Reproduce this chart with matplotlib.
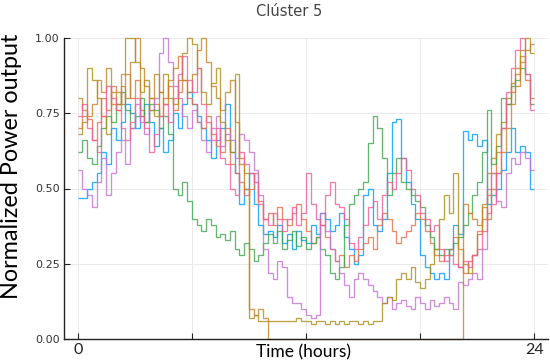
import numpy as np
import matplotlib
matplotlib.use("Agg")
import matplotlib.pyplot as plt

# 15-minute resolution (96 intervals over 24 h)
blue = [.47, .47, .50, .52, .55, .62, .58, .70, .66, .72, .78, .75, .70, .74, .78, .72,
        .64, .70, .62, .66, .75, .70, .78, .82, .78, .74, .70, .66, .60, .66, .70, .78,
        .62, .55, .45, .50, .55, .45, .38, .35, .36, .34, .38, .32, .35, .30, .36, .33,
        .32, .38, .35, .42, .40, .36, .38, .42, .34, .30, .25, .28, .48, .50, .38, .36,
        .40, .55, .72, .73, .60, .52, .45, .40, .28, .24, .22, .20, .22, .20, .30, .38,
        .35, .69, .66, .68, .64, .66, .45, .48, .50, .56, .62, .70, .62, .64, .62, .50]
orange = [.70, .74, .73, .66, .72, .80, .76, .84, .82, .78, .88, .80, .86, .76, .72, .80,
          .78, .74, .80, .84, .76, .82, .86, .80, .78, .72, .70, .74, .68, .64, .62, .70,
          .58, .55, .52, .48, .50, .55, .46, .40, .42, .38, .44, .40, .38, .42, .45, .40,
          .36, .32, .34, .38, .34, .30, .26, .28, .24, .28, .26, .30, .32, .34, .30, .38,
          .42, .40, .36, .32, .34, .36, .38, .42, .40, .36, .32, .28, .26, .28, .30, .34,
          .24, .22, .26, .28, .36, .40, .48, .55, .62, .70, .78, .82, .88, .94, .86, .80]
green = [.62, .66, .60, .58, .64, .70, .74, .72, .78, .82, .76, .70, .74, .80, .72, .78,
         .76, .70, .74, .68, .50, .48, .52, .46, .40, .38, .36, .40, .38, .34, .35, .33,
         .36, .30, .28, .32, .30, .26, .28, .32, .35, .32, .36, .30, .33, .36, .31, .34,
         .30, .32, .34, .30, .28, .22, .20, .24, .38, .45, .48, .50, .52, .65, .74, .70,
         .60, .48, .55, .60, .52, .50, .48, .46, .44, .38, .34, .30, .28, .30, .28, .32,
         .34, .38, .42, .48, .52, .62, .76, .58, .64, .80, .78, .84, .86, .90, .88, .78]
purple = [.56, .50, .48, .44, .52, .60, .48, .55, .62, .66, .58, .70, .78, .72, .68, .76,
          .80, .95, 1.00, .92, .84, .80, .74, .70, .76, .72, .66, .62, .70, .74, .64, .68,
          .66, .60, .68, .66, .62, .56, .48, .30, .22, .20, .26, .24, .14, .12, .12, .10,
          .08, .07, .08, .42, .36, .30, .26, .22, .18, .14, .20, .22, .20, .18, .16, .14,
          .12, .14, .10, .12, .13, .11, .10, .14, .12, .10, .13, .11, .12, .14, .12, .10,
          .19, .18, .20, .22, .20, .30, .50, .55, .46, .44, .55, .60, .58, .62, .60, .56]
olive = [.68, .72, .90, .86, .80, .74, .68, .82, .78, .88, 1.00, 1.00, .92, .82, .86, .76,
         .74, .82, .88, .80, .78, .86, .95, 1.00, .98, .90, .82, .78, .85, .90, .72, .66,
         .62, .88, .58, .55, .07, .08, .06, .06, .06, .06, .06, .06, .06, .06, .07, .06,
         .06, .05, .06, .06, .05, .06, .05, .06, .05, .06, .06, .05, .06, .05, .06, .06,
         .12, .14, .13, .20, .22, .20, .24, .19, .17, .20, .25, .30, .40, .48, .42, .55,
         .30, .25, .22, .28, .35, .45, .55, .60, .68, .72, .80, .85, .90, .96, 1.00, .95]
brown = [.80, .76, .74, .78, .86, .82, .90, .78, .76, .84, .80, .92, 1.00, .90, .84, .80,
         .88, .82, .78, .86, .90, .94, .86, .82, .88, .96, 1.00, .92, .84, .80, .76, .82,
         .86, .72, .60, .50, .10, .08, .10, .07, 0, 0, 0, 0, 0, 0, 0, 0,
         0, 0, 0, 0, 0, 0, 0, 0, 0, 0, 0, 0, 0, 0, 0, 0,
         0, 0, 0, 0, 0, 0, 0, 0, 0, 0, 0, 0, 0, 0, 0, 0,
         0, .45, .42, .40, .38, .44, .40, .50, .55, .62, .70, .78, .84, .92, .96, .98]
pink = [.74, .78, .70, .66, .62, .74, .84, .80, .76, .70, .66, .72, .80, .74, .70, .62,
        .68, .74, .78, .72, .80, .88, .94, .86, .82, .90, .78, .72, .66, .70, .60, .58,
        .50, .48, .62, .58, .55, .52, .45, .40, .38, .42, .40, .36, .40, .44, .38, .42,
        .55, .45, .40, .38, .48, .52, .45, .44, .40, .32, .30, .34, .38, .44, .46, .40,
        .48, .52, .50, .55, .60, .56, .50, .48, .42, .40, .36, .38, .30, .26, .28, .25,
        .24, .26, .24, .28, .30, .36, .42, .45, .55, .70, .82, .90, .96, 1.00, .88, .76]

series = [blue, orange, green, purple, olive, brown, pink]
colors = ["#009AFA", "#E36F47", "#3EA44E", "#C371D2", "#AC8E18", "#C68125", "#ED5E93"]
edges = np.arange(97) / 4.0

xticks = [0, 6, 12, 18, 24]
xticklabels = ["0", "", "", "", "24"]
yticks = [0.0, 0.25, 0.5, 0.75, 1.0]
yticklabels = ["0.00", "0.25", "0.50", "0.75", "1.00"]

W, H = 550, 363
fig = plt.figure(figsize=(W / 100, H / 100), dpi=100)
ax = fig.add_axes([64 / W, 24 / H, (548 - 64) / W, (339 - 38) / H])

for vals, c in zip(series, colors):
    ax.stairs(vals, edges, color=c, lw=0.95, alpha=0.8, baseline=None, clip_on=False)

ax.set_xlim(-0.72, 24.72)
ax.set_ylim(0, 1.0)
ax.set_xticks(xticks)
ax.set_xticklabels(xticklabels, fontsize=11.5, family="Lato")
ax.set_yticks(yticks)
ax.set_yticklabels(yticklabels, fontsize=8, color="#333333")
ax.tick_params(direction="in", length=4, width=0.8, colors="#222222", pad=3)
ax.tick_params(axis="y", labelcolor="#333333")
ax.grid(True, color="#e6e6e6", lw=0.6)
ax.set_axisbelow(True)
for s in ["top", "right"]:
    ax.spines[s].set_visible(False)
for s in ["left", "bottom"]:
    ax.spines[s].set_linewidth(1.0)
    ax.spines[s].set_color("#222222")

fig.text(303 / W, 1 - 352 / H, "Time (hours)", ha="center", va="center",
         fontsize=12.5, family="Lato")
fig.text(12 / W, 1 - 166 / H, "Normalized Power output", ha="center", va="center",
         rotation=90, fontsize=16.8, family="Lato")
fig.text(289 / W, 1 - 12 / H, "Clúster 5", ha="center", va="center",
         fontsize=10.5, color="#444444")

fig.savefig("out.png", dpi=100)
